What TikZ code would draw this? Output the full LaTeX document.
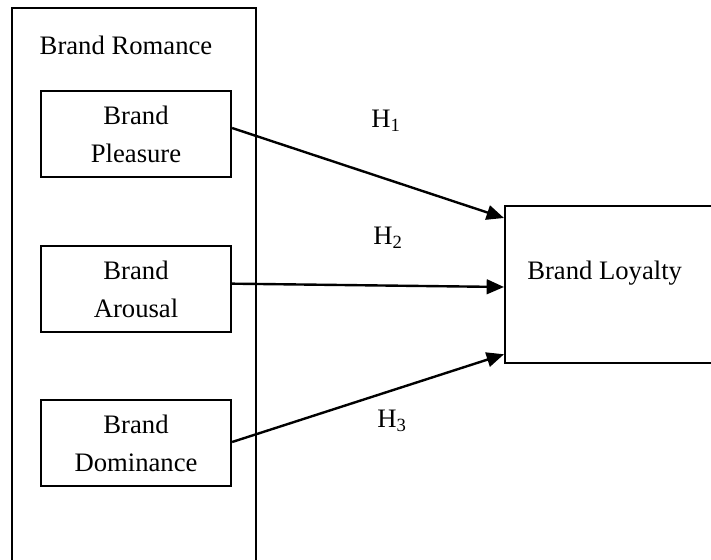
\documentclass[tikz,border=0pt]{standalone}
\usepackage{fontspec}
\setmainfont{Liberation Serif}
\usetikzlibrary{arrows.meta}
\begin{document}
\begin{tikzpicture}[x=0.75pt,y=-0.75pt,line join=miter,
    every node/.style={font=\fontsize{20}{28.5}\selectfont},
    box/.style={draw,line width=1.7pt,align=center,inner sep=0pt,
                minimum width=142.5pt,minimum height=64.5pt},
    lbl/.style={inner sep=0pt},
    hyp/.style={-{Triangle[length=13pt,width=11pt]},line width=1.8pt}]
    \useasboundingbox (0,0) rectangle (711,560);

    % vnější rámec Brand Romance (dole uříznutý)
    \draw[line width=1.7pt] (12,580)--(12,8)--(256,8)--(256,580);
    \node[lbl] (romance) at (126,45) {Brand Romance};

    % tři dimenze
    \node[box] (pleasure)  at (136,134) {Brand\\Pleasure};
    \node[box] (arousal)   at (136,289) {Brand\\Arousal};
    \node[box] (dominance) at (136,443) {Brand\\Dominance};

    % závislá proměnná (vpravo uříznutá)
    \node[box,anchor=north west,minimum width=172.5pt,minimum height=117.75pt]
        (loyalty) at (504,205) {};
    \node[lbl,anchor=west] (loyaltytext) at (527,273) {Brand Loyalty};

    % hypotézy
    \draw[hyp] ([yshift=4.5pt]pleasure.east) -- ([yshift=-9.75pt]loyalty.north west);
    \draw[hyp] ([yshift=4pt]arousal.east) -- ([yshift=-61.5pt]loyalty.north west);
    \draw[hyp] ([yshift=0.75pt]dominance.east) -- ([yshift=7.5pt]loyalty.south west);

    \node[lbl] (h1) at (386,121) {H\textsubscript{1}};
    \node[lbl] (h2) at (388,238) {H\textsubscript{2}};
    \node[lbl] (h3) at (392,421) {H\textsubscript{3}};
\end{tikzpicture}
\end{document}
